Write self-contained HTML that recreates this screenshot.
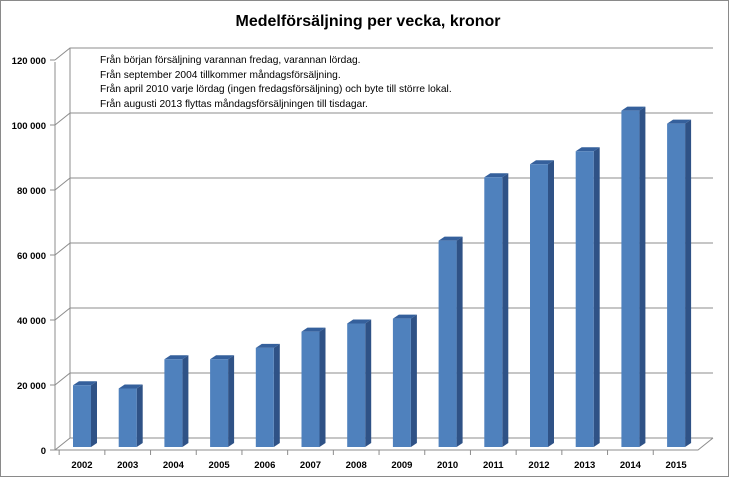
<!DOCTYPE html>
<html><head><meta charset="utf-8"><style>
body{margin:0;background:#fff;}
svg{display:block;font-family:"Liberation Sans",sans-serif;}
</style></head><body>
<svg id="c" width="733" height="479" viewBox="0 0 733 479">
<rect x="0.5" y="0.5" width="728" height="476" fill="#fff" stroke="#8a8a8a"/>
<text x="368" y="26" text-anchor="middle" font-size="16" font-weight="bold">Medelförsäljning per vecka, kronor</text>
<g id="grid"></g><g id="bars"></g><g id="labels"></g>
<g font-size="10.2" fill="#000">
<text x="100" y="63">Från början försäljning varannan fredag, varannan lördag.</text>
<text x="100" y="78">Från september  2004 tillkommer måndagsförsäljning.</text>
<text x="100" y="92">Från april 2010 varje lördag  (ingen  fredagsförsäljning) och byte till större lokal.</text>
<text x="100" y="107">Från augusti 2013 flyttas måndagsförsäljningen till tisdagar.</text>
</g>
</svg>
<script>
const categories=["2002","2003","2004","2005","2006","2007","2008","2009","2010","2011","2012","2013","2014","2015"];
const values=[19000,18000,27000,27000,30500,35500,38000,39500,63500,83000,87000,91000,103500,99500];
const ticks=[0,20000,40000,60000,80000,100000,120000];
const tickLabels=["0","20 000","40 000","60 000","80 000","100 000","120 000"];
const NS="http://www.w3.org/2000/svg";
function mk(t,a,p){const e=document.createElementNS(NS,t);for(const k in a)e.setAttribute(k,a[k]);p.appendChild(e);return e;}
const backY=v=>438-v*65/20000;
const barY=v=>447-v*0.00325;
const xC=i=>82+i*45.7;
const g=document.getElementById('grid'),b=document.getElementById('bars'),l=document.getElementById('labels');
ticks.forEach((t,i)=>{
 const y=backY(t);
 const ln=mk('polyline',{points:`55,${y+12} 70,${y} 713,${y}`,fill:'none',stroke:'#8c8c8c','stroke-width':1},g);
 
 mk('line',{x1:50,y1:y+12,x2:55,y2:y+12,stroke:'#8c8c8c'},g);
 const tx=mk('text',{x:46,y:y+16,'text-anchor':'end','font-size':9.5,'font-weight':'bold'},l);
 tx.textContent=tickLabels[i];
 
});
mk('line',{x1:55,y1:62,x2:55,y2:450,stroke:'#8c8c8c'},g);
mk('line',{x1:70,y1:48,x2:70,y2:438,stroke:'#8c8c8c'},g);
mk('polyline',{points:`55,450 698,450 713,438`,fill:'none',stroke:'#8c8c8c'},g);
categories.forEach((c,i)=>{
 mk('line',{x1:xC(i)-22.85,y1:450,x2:xC(i)-22.85,y2:455,stroke:'#8c8c8c'},g);
 const x0=xC(i)-9,w=18,d=6,u=4,yt=barY(values[i]),yb=447;
 const grp=mk('g',{},b);
 
 mk('polygon',{points:`${x0+w},${yt} ${x0+w+d},${yt-u} ${x0+w+d},${yb-u} ${x0+w},${yb}`,fill:'#2f5286'},grp);
 mk('polygon',{points:`${x0},${yt} ${x0+d},${yt-u} ${x0+w+d},${yt-u} ${x0+w},${yt}`,fill:'#35609c'},grp);
 mk('rect',{x:x0,y:yt,width:w,height:yb-yt,fill:'#4f81bd'},grp);
 const tx=mk('text',{x:xC(i),y:468,'text-anchor':'middle','font-size':9.5,'font-weight':'bold'},l);
 tx.textContent=c;
 
});
</script>
</body></html>
